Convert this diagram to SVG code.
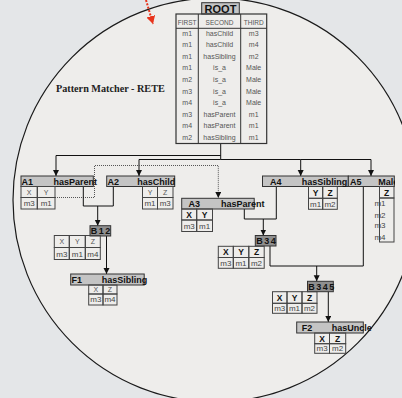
<svg xmlns="http://www.w3.org/2000/svg" width="402" height="398" viewBox="0 0 402 398">
<defs>
<marker id="ah" markerUnits="userSpaceOnUse" markerWidth="6" markerHeight="7" refX="6" refY="3" orient="auto"><path d="M0,0 L6,3 L0,6 z" fill="#111"/></marker>
<marker id="ahr" markerUnits="userSpaceOnUse" markerWidth="10" markerHeight="10" refX="8" refY="4.5" orient="auto"><path d="M0,0 L8,4.5 L0,9 z" fill="#e8341c"/></marker>
<clipPath id="clipR"><rect x="0" y="0" width="395" height="398"/></clipPath>
<style>
text{font-family:"Liberation Sans",Arial,sans-serif}
text.serif{font-family:"Liberation Serif","Times New Roman",serif}
.lbl{fill:#c4c4c4;stroke:#333;stroke-width:1}
.blbl{fill:#8f8f8f;stroke:#333;stroke-width:1}
.cell{fill:none;stroke:#444;stroke-width:1}
.hb{font-weight:bold;font-size:9px;fill:#111}
.bb{font-weight:bold;font-size:9px;fill:#111;letter-spacing:1.5px}
.rt{font-size:7px;fill:#555;text-anchor:middle}
.rh{font-size:6.5px;fill:#555;text-anchor:middle}
.ch{font-size:7px;fill:#555;text-anchor:middle}
.chb{font-size:8.5px;font-weight:bold;fill:#111;text-anchor:middle}
.cd{font-size:8px;fill:#444;text-anchor:middle}
.conn{fill:none;stroke:#111;stroke-width:1}
.dot{fill:none;stroke:#555;stroke-width:1;stroke-dasharray:1 1}
</style>
</defs>
<rect x="0" y="0" width="402" height="398" fill="#e4e6e8"/>
<circle cx="215" cy="200" r="202" fill="#eeedeb" stroke="#1a1a1a" stroke-width="1.2"/>
<text class="serif" x="56" y="92" font-weight="bold" font-size="10.2" fill="#222">Pattern Matcher - RETE</text>

<g id="connectors">
<path d="M146,0 L153,24" fill="none" stroke="#e8341c" stroke-width="2" stroke-dasharray="2 1.5" marker-end="url(#ahr)"/>
<path class="conn" d="M220.7,144 V159.5"/>
<path class="conn" d="M220.7,155.5 H56 V176" marker-end="url(#ah)"/>
<path class="conn" d="M220.7,159.5 H139 V176" marker-end="url(#ah)"/>
<path class="conn" d="M220.7,159.5 H300.7 V176" marker-end="url(#ah)"/>
<path class="conn" d="M300.7,159.5 H371 V176" marker-end="url(#ah)"/>
<path class="dot" d="M55,197.5 H94.5 V165.5 H218.3 V198" marker-end="url(#ah)"/>
<path class="conn" d="M83.3,186.5 V206 H113.3 V186.5"/>
<path class="conn" d="M97.7,206 V225.7" marker-end="url(#ah)"/>
<path class="conn" d="M106.5,236 V274" marker-end="url(#ah)"/>
<path class="conn" d="M244.3,209 V219 H276.3 V186.5"/>
<path class="conn" d="M263.3,219 V235.5" marker-end="url(#ah)"/>
<path class="conn" d="M270,246 V266 H363.3 V186.5"/>
<path class="conn" d="M316.7,266 V281.3" marker-end="url(#ah)"/>
<path class="conn" d="M328.3,291.7 V322" marker-end="url(#ah)"/>
</g>

<g id="root">
<rect class="lbl" x="201.7" y="2.7" width="37.6" height="11.3"/>
<text x="220.5" y="13" text-anchor="middle" font-weight="bold" font-size="11" fill="#111">ROOT</text>
<rect x="176" y="14" width="90.7" height="129.5" fill="none" stroke="#333" stroke-width="1.2"/>
<path d="M176,28.3 H266.7 M198.3,14 V143.5 M240.7,14 V143.5" stroke="#333" stroke-width="1" fill="none"/>
<text class="rh" x="187.2" y="24.5">FIRST</text>
<text class="rh" x="219.5" y="24.5">SECOND</text>
<text class="rh" x="253.7" y="24.5">THIRD</text>
<g class="rt">
<text x="187.2" y="35.7">m1</text><text x="219.5" y="35.7">hasChild</text><text x="253.7" y="35.7">m3</text>
<text x="187.2" y="47.3">m1</text><text x="219.5" y="47.3">hasChild</text><text x="253.7" y="47.3">m4</text>
<text x="187.2" y="58.8">m1</text><text x="219.5" y="58.8">hasSibling</text><text x="253.7" y="58.8">m2</text>
<text x="187.2" y="70.4">m1</text><text x="219.5" y="70.4">is_a</text><text x="253.7" y="70.4">Male</text>
<text x="187.2" y="81.9">m2</text><text x="219.5" y="81.9">is_a</text><text x="253.7" y="81.9">Male</text>
<text x="187.2" y="93.5">m3</text><text x="219.5" y="93.5">is_a</text><text x="253.7" y="93.5">Male</text>
<text x="187.2" y="105">m4</text><text x="219.5" y="105">is_a</text><text x="253.7" y="105">Male</text>
<text x="187.2" y="116.6">m3</text><text x="219.5" y="116.6">hasParent</text><text x="253.7" y="116.6">m1</text>
<text x="187.2" y="128.1">m4</text><text x="219.5" y="128.1">hasParent</text><text x="253.7" y="128.1">m1</text>
<text x="187.2" y="139.7">m2</text><text x="219.5" y="139.7">hasSibling</text><text x="253.7" y="139.7">m1</text>
</g>
</g>

<g id="A1">
<rect class="lbl" x="21" y="176" width="72.3" height="10.5"/>
<text class="hb" x="21.5" y="184.7">A1</text>
<text class="hb" x="53.5" y="184.7">hasParent</text>
<rect class="cell" x="21" y="186.5" width="16.3" height="11"/><rect class="cell" x="37.3" y="186.5" width="17.7" height="11"/>
<rect class="cell" x="21" y="197.5" width="16.3" height="11.5"/><rect class="cell" x="37.3" y="197.5" width="17.7" height="11.5"/>
<text class="ch" x="29.2" y="194.8">X</text><text class="ch" x="46.2" y="194.8">Y</text>
<text class="cd" x="29.2" y="206.3">m3</text><text class="cd" x="46.2" y="206.3">m1</text>
</g>

<g id="A2">
<rect class="lbl" x="106.7" y="176" width="68" height="10.5"/>
<text class="hb" x="107.5" y="184.7">A2</text>
<text class="hb" x="137.3" y="184.7">hasChild</text>
<rect class="cell" x="142.5" y="186.5" width="15" height="11"/><rect class="cell" x="157.5" y="186.5" width="15.5" height="11"/>
<rect class="cell" x="142.5" y="197.5" width="15" height="11.5"/><rect class="cell" x="157.5" y="197.5" width="15.5" height="11.5"/>
<text class="ch" x="150" y="194.8">Y</text><text class="ch" x="165.2" y="194.8">Z</text>
<text class="cd" x="150" y="206.3">m1</text><text class="cd" x="165.2" y="206.3">m3</text>
</g>

<g id="A3">
<rect class="lbl" x="181.7" y="198.3" width="72.5" height="10.7"/>
<text class="hb" x="188.5" y="207.2">A3</text>
<text class="hb" x="221" y="207.2">hasParent</text>
<rect class="cell" x="181.7" y="209" width="15" height="11"/><rect class="cell" x="196.7" y="209" width="15.8" height="11"/>
<rect class="cell" x="181.7" y="220" width="15" height="11.5"/><rect class="cell" x="196.7" y="220" width="15.8" height="11.5"/>
<text class="chb" x="189.2" y="217.8">X</text><text class="chb" x="204.6" y="217.8">Y</text>
<text class="cd" x="189.2" y="228.8">m3</text><text class="cd" x="204.6" y="228.8">m1</text>
</g>

<g id="A4">
<rect class="lbl" x="262.5" y="176" width="85.8" height="10.5"/>
<text class="hb" x="270" y="184.7">A4</text>
<text class="hb" x="301.7" y="184.7">hasSibling</text>
<rect class="cell" x="308.5" y="186.5" width="14.2" height="11.8"/><rect class="cell" x="322.7" y="186.5" width="14.6" height="11.8"/>
<rect class="cell" x="308.5" y="198.3" width="14.2" height="11"/><rect class="cell" x="322.7" y="198.3" width="14.6" height="11"/>
<text class="chb" x="315.6" y="195.6">Y</text><text class="chb" x="330" y="195.6">Z</text>
<text class="cd" x="315.6" y="206.8">m1</text><text class="cd" x="330" y="206.8">m2</text>
</g>

<g id="A5">
<rect class="lbl" x="348.3" y="176" width="46" height="10.5"/>
<text class="hb" x="350" y="184.7">A5</text>
<text class="hb" x="378.3" y="184.7" clip-path="url(#clipR)">Male</text>
<rect class="cell" x="379.5" y="186.5" width="14.5" height="11.5"/>
<rect class="cell" x="379.5" y="198" width="14.5" height="44"/>
<text class="chb" x="386.7" y="195.6">Z</text>
<text class="cd" x="380" y="205.8" text-anchor="start">m1</text>
<text class="cd" x="380" y="217.5" text-anchor="start">m2</text>
<text class="cd" x="380" y="228.2" text-anchor="start">m3</text>
<text class="cd" x="380" y="240" text-anchor="start">m4</text>
</g>

<g id="B12">
<rect class="blbl" x="90" y="225.7" width="20.7" height="10.3"/>
<text class="bb" x="90.8" y="234.3">B12</text>
<rect class="cell" x="54.3" y="235.5" width="15" height="12"/><rect class="cell" x="69.3" y="235.5" width="16" height="12"/><rect class="cell" x="85.3" y="235.5" width="15" height="12"/>
<rect class="cell" x="54.3" y="247.5" width="15" height="12"/><rect class="cell" x="69.3" y="247.5" width="16" height="12"/><rect class="cell" x="85.3" y="247.5" width="15" height="12"/>
<text class="ch" x="61.8" y="244.3">X</text><text class="ch" x="77.3" y="244.3">Y</text><text class="ch" x="92.8" y="244.3">Z</text>
<text class="cd" x="61.8" y="256.6">m3</text><text class="cd" x="77.3" y="256.6">m1</text><text class="cd" x="92.8" y="256.6">m4</text>
</g>

<g id="F1">
<rect class="lbl" x="70.7" y="274" width="73.5" height="11"/>
<text class="hb" x="71.5" y="283">F1</text>
<text class="hb" x="101.7" y="283">hasSibling</text>
<rect class="cell" x="88.7" y="285" width="14.3" height="9"/><rect class="cell" x="103" y="285" width="14" height="9"/>
<rect class="cell" x="88.7" y="294" width="14.3" height="11"/><rect class="cell" x="103" y="294" width="14" height="11"/>
<text class="ch" x="95.8" y="292">X</text><text class="ch" x="110" y="292">Z</text>
<text class="cd" x="95.8" y="302.3">m3</text><text class="cd" x="110" y="302.3">m4</text>
</g>

<g id="B34">
<rect class="blbl" x="255.3" y="235.5" width="20.7" height="10.5"/>
<text class="bb" x="256.3" y="244.3">B34</text>
<rect class="cell" x="218.3" y="246.3" width="15" height="11.2"/><rect class="cell" x="233.3" y="246.3" width="15.5" height="11.2"/><rect class="cell" x="248.8" y="246.3" width="15.4" height="11.2"/>
<rect class="cell" x="218.3" y="257.5" width="15" height="10.8"/><rect class="cell" x="233.3" y="257.5" width="15.5" height="10.8"/><rect class="cell" x="248.8" y="257.5" width="15.4" height="10.8"/>
<text class="chb" x="225.8" y="255.2">X</text><text class="chb" x="241" y="255.2">Y</text><text class="chb" x="256.5" y="255.2">Z</text>
<text class="cd" x="225.8" y="265.8">m3</text><text class="cd" x="241" y="265.8">m1</text><text class="cd" x="256.5" y="265.8">m2</text>
</g>

<g id="B345">
<rect class="blbl" x="307.5" y="281.3" width="25.8" height="10.4"/>
<text class="bb" x="308.3" y="290">B345</text>
<rect class="cell" x="272.5" y="291.7" width="14.5" height="11.6"/><rect class="cell" x="287" y="291.7" width="15" height="11.6"/><rect class="cell" x="302" y="291.7" width="15" height="11.6"/>
<rect class="cell" x="272.5" y="303.3" width="14.5" height="10"/><rect class="cell" x="287" y="303.3" width="15" height="10"/><rect class="cell" x="302" y="303.3" width="15" height="10"/>
<text class="chb" x="279.7" y="300.8">X</text><text class="chb" x="294.5" y="300.8">Y</text><text class="chb" x="309.5" y="300.8">Z</text>
<text class="cd" x="279.7" y="311.3">m3</text><text class="cd" x="294.5" y="311.3">m1</text><text class="cd" x="309.5" y="311.3">m2</text>
</g>

<g id="F2">
<rect class="lbl" x="296.7" y="322" width="66.6" height="11"/>
<text class="hb" x="301.7" y="331">F2</text>
<text class="hb" x="331.7" y="331">hasUncle</text>
<rect class="cell" x="314.7" y="333" width="14.8" height="10.7"/><rect class="cell" x="329.5" y="333" width="16.2" height="10.7"/>
<rect class="cell" x="314.7" y="343.7" width="14.8" height="9.6"/><rect class="cell" x="329.5" y="343.7" width="16.2" height="9.6"/>
<text class="chb" x="322.1" y="341.5">X</text><text class="chb" x="337.6" y="341.5">Z</text>
<text class="cd" x="322.1" y="351.3" fill="#777">m3</text><text class="cd" x="337.6" y="351.3" fill="#777">m2</text>
</g>
</svg>
